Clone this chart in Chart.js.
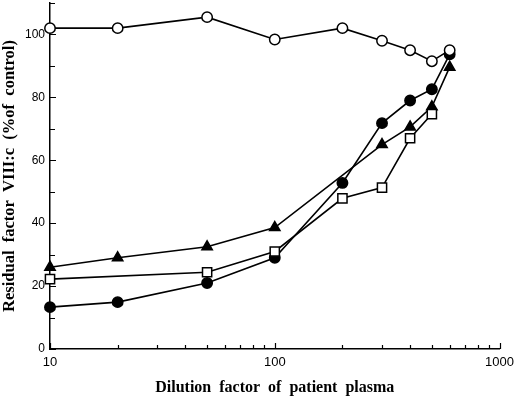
<!DOCTYPE html>
<html>
<head>
<meta charset="utf-8">
<script src="https://cdn.jsdelivr.net/npm/chart.js@4/dist/chart.umd.min.js"></script>
<style>
html,body{margin:0;padding:0;background:#fff;}
#wrap{width:520px;height:397px;position:relative;}
</style>
</head>
<body>
<div id="wrap"><canvas id="c" width="520" height="397"></canvas></div>
<script>
// Data
const xOpenCircle = [10, 20, 50, 100, 200, 300, 400, 500, 600];
const yOpenCircle = [102, 102, 105.5, 98.4, 102, 98, 95, 91.5, 95];
const xFilledCircle = [10, 20, 50, 100, 200, 300, 400, 500, 600];
const yFilledCircle = [13.3, 14.9, 21, 29, 52.8, 71.8, 79, 82.6, 93.7];
const xTriangle = [10, 20, 50, 100, 300, 400, 500, 600];
const yTriangle = [26, 29, 32.5, 38.6, 65, 70.6, 77, 89.6];
const xSquare = [10, 50, 100, 200, 300, 400, 500];
const ySquare = [22.2, 24.4, 31, 47.9, 51.3, 67, 74.7];
const xTickValues = [10,20,30,40,50,60,70,80,90,100,200,300,400,500,600,700,800,900,1000];
const xTickLabels = ['10','100','1000'];
const yTickValues = [0,10,20,30,40,50,60,70,80,90,100,110];
const yTickLabels = ['0','20','40','60','80','100'];
const xTitle = 'Dilution  factor  of  patient  plasma';
const yTitle = 'Residual  factor  VIII:c  (%of  control)';

const pts = (xs, ys) => xs.map((x, i) => ({x: x, y: ys[i]}));

const inwardTicks = {
  id: 'inwardTicks',
  afterDraw(chart) {
    const ctx = chart.ctx;
    const xs = chart.scales.x, ys = chart.scales.y;
    ctx.save();
    ctx.strokeStyle = '#000';
    ctx.lineWidth = 1.2;
    ctx.beginPath();
    xTickValues.forEach(v => {
      const px = Math.round(xs.getPixelForValue(v)) + 0.5;
      const major = xTickLabels.includes(String(v));
      const len = major ? 6 : 4;
      ctx.moveTo(px, xs.top);
      ctx.lineTo(px, xs.top - len);
    });
    yTickValues.forEach(v => {
      const py = Math.round(ys.getPixelForValue(v)) + 0.5;
      const len = (v % 20 === 0) ? 6 : 5;
      ctx.moveTo(ys.right, py);
      ctx.lineTo(ys.right + len, py);
    });
    ctx.stroke();
    ctx.restore();
  }
};

const common = {
  showLine: true,
  borderColor: '#000',
  borderWidth: 1.6,
  pointBorderColor: '#000',
  pointBorderWidth: 1.5,
  tension: 0,
  clip: false
};

new Chart(document.getElementById('c'), {
  type: 'scatter',
  data: {
    datasets: [
      Object.assign({}, common, {label: 'open circle', data: pts(xOpenCircle, yOpenCircle),
        pointStyle: 'circle', pointRadius: 5.2, pointBackgroundColor: '#fff'}),
      Object.assign({}, common, {label: 'square', data: pts(xSquare, ySquare),
        pointStyle: 'rect', pointRadius: 6.5, pointBackgroundColor: '#fff'}),
      Object.assign({}, common, {label: 'triangle', data: pts(xTriangle, yTriangle),
        pointStyle: 'triangle', pointRadius: 6, pointBackgroundColor: '#000'}),
      Object.assign({}, common, {label: 'filled circle', data: pts(xFilledCircle, yFilledCircle),
        pointStyle: 'circle', pointRadius: 5.2, pointBackgroundColor: '#000'})
    ]
  },
  options: {
    responsive: false,
    animation: false,
    devicePixelRatio: 1,
    layout: {autoPadding: false, padding: {top: 3, right: 0, left: 0, bottom: 0}},
    plugins: {legend: {display: false}, tooltip: {enabled: false}},
    scales: {
      x: {
        type: 'logarithmic',
        min: 10, max: 1000,
        afterBuildTicks: s => { s.ticks = xTickValues.map(v => ({value: v})); },
        afterFit: s => { s.height = 48; },
        grid: {display: false, drawTicks: false},
        border: {display: true, color: '#000', width: 1.5},
        ticks: {
          autoSkip: false, maxRotation: 0, padding: 6,
          color: '#000',
          font: {family: '"Liberation Sans", Arial, sans-serif', size: 13},
          callback: v => xTickLabels.includes(String(v)) ? String(v) : ''
        },
        title: {
          display: true, text: xTitle, color: '#000',
          font: {family: '"Liberation Serif", "Times New Roman", serif', size: 16, weight: 'bold'},
          padding: {top: 5, bottom: 0}
        }
      },
      y: {
        min: 0, max: 110,
        afterBuildTicks: s => { s.ticks = yTickValues.map(v => ({value: v})); },
        afterFit: s => { s.width = 50; s.paddingTop = 0; },
        grid: {display: false, drawTicks: false},
        border: {display: true, color: '#000', width: 1.5},
        ticks: {
          autoSkip: false, padding: 5, color: '#000',
          font: {family: '"Liberation Sans", Arial, sans-serif', size: 12},
          callback: v => yTickLabels.includes(String(v)) ? String(v) : ''
        },
        title: {
          display: true, text: yTitle, color: '#000',
          font: {family: '"Liberation Serif", "Times New Roman", serif', size: 16.5, weight: 'bold'},
          padding: {top: 0, bottom: 4}
        }
      }
    }
  },
  plugins: [inwardTicks]
});
</script>
</body>
</html>
